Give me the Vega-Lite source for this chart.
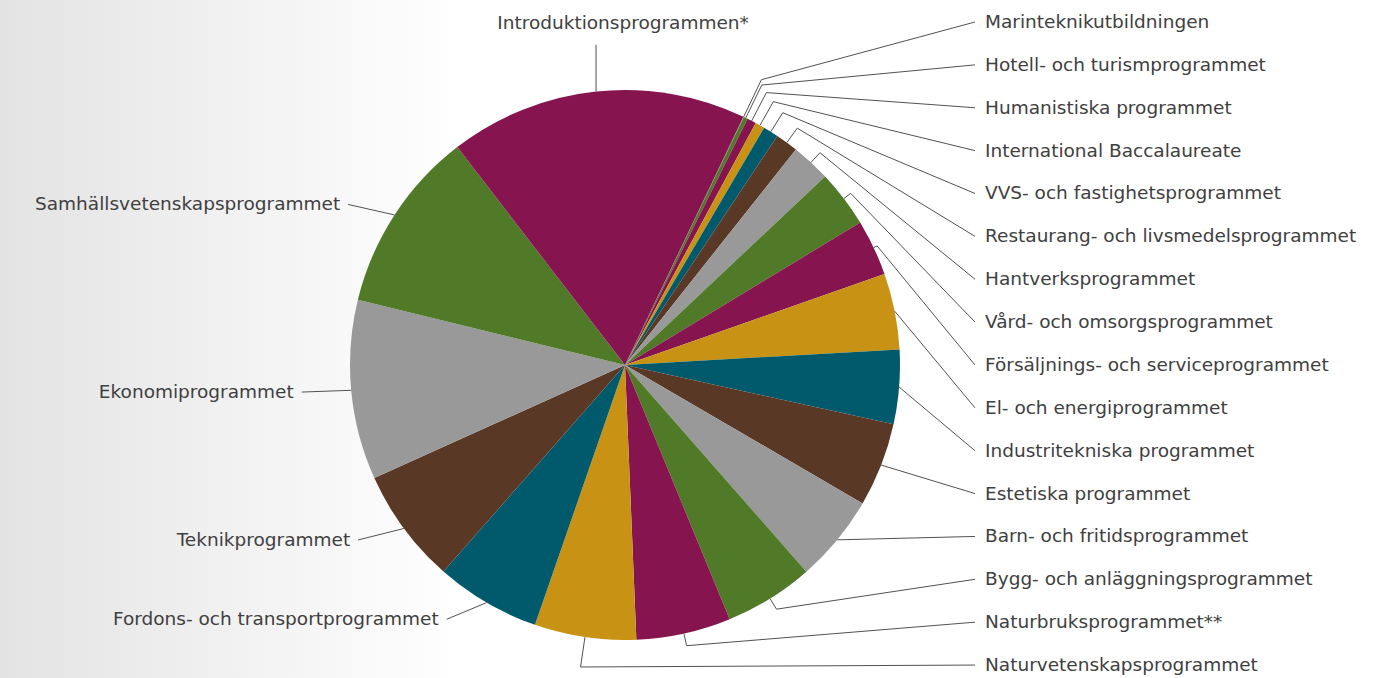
{
  "$schema": "https://vega.github.io/schema/vega-lite/v6.json",
  "width": 1395,
  "height": 678,
  "autosize": {"type": "fit", "contains": "padding"},
  "padding": 0,
  "background": "#ffffff",
  "config": {"view": {"stroke": null}},
  "datasets": {
    "program": [
      {"nr": 1, "name": "Marinteknikutbildningen", "value": 0.03},
      {"nr": 2, "name": "Hotell- och turismprogrammet", "value": 0.24},
      {"nr": 3, "name": "Humanistiska programmet", "value": 0.53},
      {"nr": 4, "name": "International Baccalaureate", "value": 0.56},
      {"nr": 5, "name": "VVS- och fastighetsprogrammet", "value": 0.9},
      {"nr": 6, "name": "Restaurang- och livsmedelsprogrammet", "value": 1.33},
      {"nr": 7, "name": "Hantverksprogrammet", "value": 2.3},
      {"nr": 8, "name": "Vård- och omsorgsprogrammet", "value": 3.36},
      {"nr": 9, "name": "Försäljnings- och serviceprogrammet", "value": 3.3},
      {"nr": 10, "name": "El- och energiprogrammet", "value": 4.47},
      {"nr": 11, "name": "Industritekniska programmet", "value": 4.36},
      {"nr": 12, "name": "Estetiska programmet", "value": 4.94},
      {"nr": 13, "name": "Barn- och fritidsprogrammet", "value": 5.14},
      {"nr": 14, "name": "Bygg- och anläggningsprogrammet", "value": 5.25},
      {"nr": 15, "name": "Naturbruksprogrammet**", "value": 5.56},
      {"nr": 16, "name": "Naturvetenskapsprogrammet", "value": 5.97},
      {"nr": 17, "name": "Fordons- och transportprogrammet", "value": 6.17},
      {"nr": 18, "name": "Teknikprogrammet", "value": 6.78},
      {"nr": 19, "name": "Ekonomiprogrammet", "value": 10.56},
      {"nr": 20, "name": "Samhällsvetenskapsprogrammet", "value": 10.75},
      {"nr": 21, "name": "Introduktionsprogrammen*", "value": 17.53}
    ]
  },
  "data": {"name": "program"},
  "layer": [
    {
      "data": {"values": [{"bg": 1}]},
      "mark": {
        "type": "rect",
        "fill": {
          "gradient": "linear",
          "x1": 0, "x2": 1, "y1": 0, "y2": 0,
          "stops": [
            {"offset": 0, "color": "#e3e3e3"},
            {"offset": 0.33, "color": "#ffffff"},
            {"offset": 1, "color": "#ffffff"}
          ]
        }
      },
      "encoding": {
        "x": {"value": 0},
        "x2": {"value": "width"},
        "y": {"value": 0},
        "y2": {"value": "height"}
      }
    },
    {
      "mark": {"type": "arc", "outerRadius": 275},
      "encoding": {
        "x": {"datum": 0, "type": "quantitative", "scale": {"domain": [-2.27273, 2.8], "nice": false, "zero": false}, "axis": null},
        "y": {"datum": 0, "type": "quantitative", "scale": {"domain": [-1.13818, 1.32727], "nice": false, "zero": false}, "axis": null},
        "theta": {"field": "value", "type": "quantitative", "stack": true, "scale": {"range": [0.4451, 6.7283]}},
        "order": {"field": "nr", "type": "quantitative", "sort": "ascending"},
        "color": {
          "field": "name",
          "type": "nominal",
          "legend": null,
          "scale": {
            "domain": [
              "Marinteknikutbildningen", "Hotell- och turismprogrammet", "Humanistiska programmet",
              "International Baccalaureate", "VVS- och fastighetsprogrammet", "Restaurang- och livsmedelsprogrammet",
              "Hantverksprogrammet", "Vård- och omsorgsprogrammet", "Försäljnings- och serviceprogrammet",
              "El- och energiprogrammet", "Industritekniska programmet", "Estetiska programmet",
              "Barn- och fritidsprogrammet", "Bygg- och anläggningsprogrammet", "Naturbruksprogrammet**",
              "Naturvetenskapsprogrammet", "Fordons- och transportprogrammet", "Teknikprogrammet",
              "Ekonomiprogrammet", "Samhällsvetenskapsprogrammet", "Introduktionsprogrammen*"
            ],
            "range": [
              "#989998", "#507a28", "#86144f", "#c89214", "#005a6b", "#5a3826",
              "#989998", "#507a28", "#86144f", "#c89214", "#005a6b", "#5a3826",
              "#989998", "#507a28", "#86144f", "#c89214", "#005a6b", "#5a3826",
              "#989998", "#507a28", "#86144f"
            ]
          }
        }
      }
    },
    {
      "transform": [
        {"window": [{"op": "sum", "field": "value", "as": "cum"}], "sort": [{"field": "nr", "order": "ascending"}], "frame": [null, 0]},
        {"joinaggregate": [{"op": "sum", "field": "value", "as": "total"}]},
        {"calculate": "0.4451 + 2 * PI * (datum.cum - datum.value / 2) / datum.total", "as": "a"},
        {"calculate": "sin(datum.a)", "as": "ex"},
        {"calculate": "cos(datum.a)", "as": "ey"},
        {"calculate": "datum.nr <= 9 ? 1.15 - 0.017 * (datum.nr - 1) : (datum.nr <= 13 ? 1.0 : (datum.nr <= 15 ? 1.045 : (datum.nr == 16 ? 1.11 : 1.0)))", "as": "br"},
        {"calculate": "datum.br * datum.ex", "as": "bx"},
        {"calculate": "datum.br * datum.ey", "as": "by"},
        {"calculate": "datum.nr <= 16 ? 1.2727 : (datum.nr <= 20 ? 1.07 * datum.ex - 0.11 : datum.ex)", "as": "lx"},
        {"calculate": "datum.nr <= 16 ? (343 - 42.87 * (datum.nr - 1)) / 275 : (datum.nr <= 20 ? 1.07 * datum.ey : datum.ey + 0.17)", "as": "ly"}
      ],
      "layer": [
        {
          "mark": {"type": "rule", "stroke": "#525252", "strokeWidth": 1},
          "encoding": {
            "x": {"field": "ex", "type": "quantitative", "scale": {"domain": [-2.27273, 2.8], "nice": false, "zero": false}, "axis": null},
            "y": {"field": "ey", "type": "quantitative", "scale": {"domain": [-1.13818, 1.32727], "nice": false, "zero": false}, "axis": null},
            "x2": {"field": "bx"},
            "y2": {"field": "by"}
          }
        },
        {
          "mark": {"type": "rule", "stroke": "#525252", "strokeWidth": 1},
          "encoding": {
            "x": {"field": "bx", "type": "quantitative", "scale": {"domain": [-2.27273, 2.8], "nice": false, "zero": false}, "axis": null},
            "y": {"field": "by", "type": "quantitative", "scale": {"domain": [-1.13818, 1.32727], "nice": false, "zero": false}, "axis": null},
            "x2": {"field": "lx"},
            "y2": {"field": "ly"}
          }
        },
        {
          "transform": [{"filter": "datum.nr <= 16"}],
          "mark": {"type": "text", "align": "left", "baseline": "middle", "dx": 10, "font": "DejaVu Sans", "fontSize": 18.5, "fill": "#404040"},
          "encoding": {
            "x": {"field": "lx", "type": "quantitative", "scale": {"domain": [-2.27273, 2.8], "nice": false, "zero": false}, "axis": null},
            "y": {"field": "ly", "type": "quantitative", "scale": {"domain": [-1.13818, 1.32727], "nice": false, "zero": false}, "axis": null},
            "text": {"field": "name"}
          }
        },
        {
          "transform": [{"filter": "datum.nr > 16 && datum.nr <= 20"}],
          "mark": {"type": "text", "align": "right", "baseline": "middle", "dx": -8, "font": "DejaVu Sans", "fontSize": 18.5, "fill": "#404040"},
          "encoding": {
            "x": {"field": "lx", "type": "quantitative", "scale": {"domain": [-2.27273, 2.8], "nice": false, "zero": false}, "axis": null},
            "y": {"field": "ly", "type": "quantitative", "scale": {"domain": [-1.13818, 1.32727], "nice": false, "zero": false}, "axis": null},
            "text": {"field": "name"}
          }
        },
        {
          "transform": [{"filter": "datum.nr == 21"}],
          "mark": {"type": "text", "align": "center", "baseline": "bottom", "dx": 27, "dy": -12, "font": "DejaVu Sans", "fontSize": 18.5, "fill": "#404040"},
          "encoding": {
            "x": {"field": "lx", "type": "quantitative", "scale": {"domain": [-2.27273, 2.8], "nice": false, "zero": false}, "axis": null},
            "y": {"field": "ly", "type": "quantitative", "scale": {"domain": [-1.13818, 1.32727], "nice": false, "zero": false}, "axis": null},
            "text": {"field": "name"}
          }
        }
      ]
    }
  ]
}
